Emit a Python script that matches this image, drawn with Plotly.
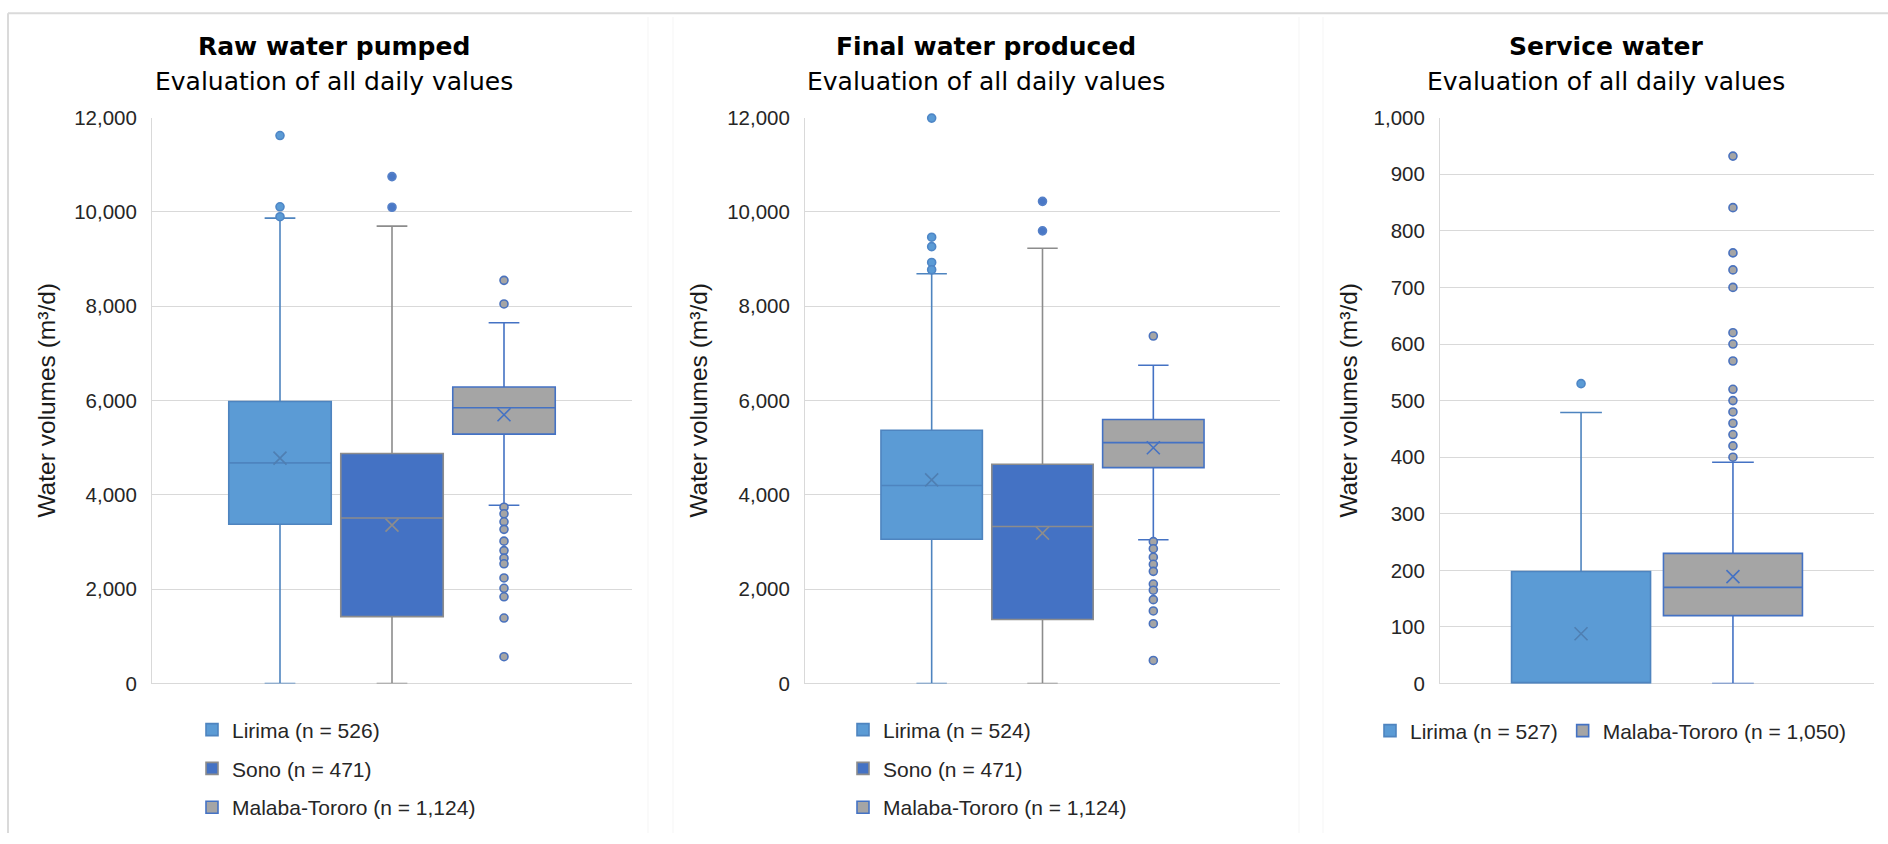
import plotly.graph_objects as go

W, H = 1888, 844

# ---------------------------------------------------------------------------
# Data: daily water volumes (m³/d), box-plot summary statistics per plant
# ---------------------------------------------------------------------------
series = ["Lirima", "Sono", "Malaba-Tororo"]

# Raw water pumped
raw_n = [526, 471, 1124]
raw_lower = [0, 0, 3780]
raw_q1 = [3380, 1420, 5290]
raw_median = [4680, 3510, 5850]
raw_q3 = [5980, 4880, 6290]
raw_upper = [9870, 9700, 7650]
raw_mean = [4780, 3360, 5700]
raw_out_lirima = [11620, 10110, 9900]
raw_out_sono = [10750, 10100]
raw_out_malaba = [8550, 8050, 3740, 3600, 3430, 3270, 3020, 2820, 2660,
                  2540, 2240, 2020, 1840, 1390, 570]

# Final water produced
fin_n = [524, 471, 1124]
fin_lower = [0, 0, 3050]
fin_q1 = [3060, 1360, 4580]
fin_median = [4200, 3330, 5110]
fin_q3 = [5370, 4650, 5600]
fin_upper = [8690, 9230, 6750]
fin_mean = [4320, 3190, 5000]
fin_out_lirima = [11990, 9465, 9265, 8930, 8775]
fin_out_sono = [10225, 9600]
fin_out_malaba = [7370, 3010, 2860, 2680, 2530, 2380, 2110, 1980, 1780,
                  1540, 1270, 490]

# Service water
svc_series = ["Lirima", "Malaba-Tororo"]
svc_n = [527, 1050]
svc_lower = [0, 0]
svc_q1 = [0, 120]
svc_median = [0, 170]
svc_q3 = [198, 230]
svc_upper = [479, 391]
svc_mean = [88, 189]
svc_out_lirima = [530]
svc_out_malaba = [932, 841, 761, 731, 700, 620, 600, 570, 520, 500, 480,
                  460, 440, 420, 400]

raw_ticks = [0, 2000, 4000, 6000, 8000, 10000, 12000]
svc_ticks = [0, 100, 200, 300, 400, 500, 600, 700, 800, 900, 1000]

# ---------------------------------------------------------------------------
# Styling
# ---------------------------------------------------------------------------
FONT = "Liberation Sans, Arial, Helvetica, sans-serif"
TITLE_FONT = "DejaVu Sans, Liberation Sans, Arial, sans-serif"
GRID = "#D9D9D9"
STYLE = {
    "Lirima": dict(fill="#5B9BD5", line="#4E84BF", ofill="#5B9BD5",
                   oline="#4E86C6", mean="#4F7FB2"),
    "Sono": dict(fill="#4472C4", line="#8C8C8C", ofill="#4A78C6",
                 oline="#5580C8", mean="#8C8C8C"),
    "Malaba-Tororo": dict(fill="#A5A5A5", line="#4472C4", ofill="#A5A5A5",
                          oline="#4A72BE", mean="#4472C4"),
}
BOX_GAP = 0.30        # share of the category left empty around the group
GROUP_GAP = 0.085     # share of each slot left empty between boxes

# plot-area extents in pixels: (left, right) and vertical span
PANEL_X = [(152, 632), (805, 1280), (1440, 1874)]
PLOT_TOP, PLOT_BOTTOM = 108.6, 690.4


def px_x(p):
    return p / W


def px_y(p):
    return 1 - p / H


panels = [
    dict(title="Raw water pumped", names=series, n=raw_n, lower=raw_lower,
         q1=raw_q1, median=raw_median, q3=raw_q3, upper=raw_upper,
         mean=raw_mean, out=[raw_out_lirima, raw_out_sono, raw_out_malaba],
         ticks=raw_ticks),
    dict(title="Final water produced", names=series, n=fin_n, lower=fin_lower,
         q1=fin_q1, median=fin_median, q3=fin_q3, upper=fin_upper,
         mean=fin_mean, out=[fin_out_lirima, fin_out_sono, fin_out_malaba],
         ticks=raw_ticks),
    dict(title="Service water", names=svc_series, n=svc_n, lower=svc_lower,
         q1=svc_q1, median=svc_median, q3=svc_q3, upper=svc_upper,
         mean=svc_mean, out=[svc_out_lirima, svc_out_malaba],
         ticks=svc_ticks),
]

fig = go.Figure()
layout = dict(
    width=W, height=H,
    margin=dict(l=0, r=0, t=0, b=0),
    paper_bgcolor="white", plot_bgcolor="white",
    font=dict(family=FONT, color="#262626"),
    boxmode="overlay",
    annotations=[], shapes=[],
)

legend_cfg = [
    dict(x=px_x(192), y=px_y(717), orientation="v"),
    dict(x=px_x(843), y=px_y(717), orientation="v"),
    dict(x=px_x(1370), y=px_y(718), orientation="h"),
]
title_x = [334, 986, 1606]
axis_title_x = [47, 699, 1349]

for k, p in enumerate(panels):
    sfx = "" if k == 0 else str(k + 1)
    xa, ya = "x" + sfx, "y" + sfx
    leg = "legend" + sfx
    m = len(p["names"])
    slot = (1 - BOX_GAP) / m
    width = slot * (1 - GROUP_GAP)
    for i, name in enumerate(p["names"]):
        st = STYLE[name]
        pos = -(1 - BOX_GAP) / 2 + slot * (i + 0.5)
        fig.add_trace(go.Box(
            x=[pos], q1=[p["q1"][i]], median=[p["median"][i]],
            q3=[p["q3"][i]], lowerfence=[p["lower"][i]],
            upperfence=[p["upper"][i]], width=width, whiskerwidth=0.3,
            fillcolor=st["fill"], line=dict(color=st["line"], width=1.6),
            boxpoints=False, name=f"{name} (n = {p['n'][i]:,})",
            legendgroup=f"{k}-{name}", legend=leg,
            xaxis=xa, yaxis=ya,
        ))
        fig.add_trace(go.Scatter(
            x=[pos] * len(p["out"][i]), y=p["out"][i], mode="markers",
            marker=dict(symbol="circle", size=8, color=st["ofill"],
                        line=dict(color=st["oline"], width=1.6)),
            cliponaxis=False, showlegend=False, hoverinfo="y",
            xaxis=xa, yaxis=ya,
        ))
        fig.add_trace(go.Scatter(
            x=[pos], y=[p["mean"][i]], mode="markers",
            marker=dict(symbol="x-thin", size=13,
                        line=dict(color=st["mean"], width=1.6)),
            showlegend=False, hoverinfo="y", xaxis=xa, yaxis=ya,
        ))

    x0, x1 = PANEL_X[k]
    layout["xaxis" + sfx] = dict(
        domain=[px_x(x0), px_x(x1)], range=[-0.5, 0.5], visible=False,
        anchor=ya, fixedrange=True,
    )
    layout["yaxis" + sfx] = dict(
        domain=[px_y(PLOT_BOTTOM), px_y(PLOT_TOP)],
        range=[p["ticks"][0], p["ticks"][-1]], tickvals=p["ticks"],
        tickformat=",", showgrid=True, gridcolor=GRID, gridwidth=1,
        zeroline=True, zerolinecolor=GRID, zerolinewidth=1,
        showline=True, linecolor=GRID, linewidth=1,
        ticks="", ticklabelstandoff=10,
        tickfont=dict(size=20.5, color="#262626", family=FONT),
        anchor=xa, fixedrange=True,
    )
    lc = legend_cfg[k]
    layout[leg] = dict(
        x=lc["x"], y=lc["y"], xanchor="left", yanchor="top",
        orientation=lc["orientation"], bgcolor="rgba(0,0,0,0)",
        font=dict(size=21, color="#262626", family=FONT),
        tracegroupgap=8.5 if lc["orientation"] == "v" else 0,
        traceorder="grouped",
    )
    layout["annotations"] += [
        dict(text=f"<b>{p['title']}</b>", x=px_x(title_x[k]), y=px_y(35.3),
             xref="paper", yref="paper", showarrow=False,
             xanchor="center", yanchor="middle",
             font=dict(size=25, color="black", family=TITLE_FONT)),
        dict(text="Evaluation of all daily values", x=px_x(title_x[k]),
             y=px_y(71.2), xref="paper", yref="paper", showarrow=False,
             xanchor="center", yanchor="middle",
             font=dict(size=25, color="black", family=TITLE_FONT)),
        dict(text="Water volumes (m³/d)", textangle=-90,
             x=px_x(axis_title_x[k]), y=px_y((PLOT_TOP + PLOT_BOTTOM) / 2),
             xref="paper", yref="paper", showarrow=False,
             xanchor="center", yanchor="middle",
             font=dict(size=24.5, color="#1a1a1a", family=FONT)),
    ]

# outer frame (top and left edges) and faint sheet boundaries
layout["shapes"] += [
    dict(type="line", xref="paper", yref="paper", x0=px_x(8), x1=1,
         y0=px_y(1.2), y1=px_y(1.2), line=dict(color="#DADADA", width=2)),
    dict(type="line", xref="paper", yref="paper", x0=px_x(8), x1=px_x(8),
         y0=px_y(1.2), y1=0, line=dict(color="#DADADA", width=2)),
]
for xv in (648, 673, 1299, 1323):
    layout["shapes"].append(
        dict(type="line", xref="paper", yref="paper", x0=px_x(xv),
             x1=px_x(xv), y0=px_y(5), y1=0,
             line=dict(color="#F5F5F5", width=1)))

fig.update_layout(**layout)
fig.write_html("out.html")
